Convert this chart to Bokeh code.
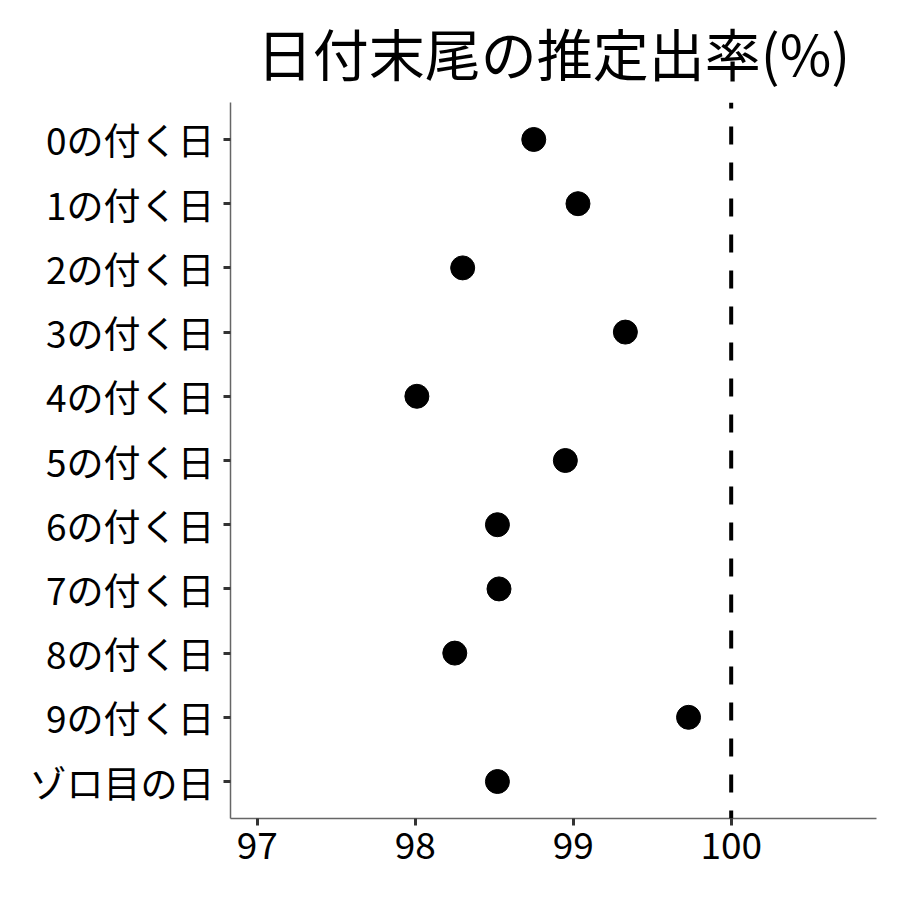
from bokeh.plotting import figure
from bokeh.models import Range1d, FactorRange, Span, FixedTicker, ColumnDataSource
from bokeh.embed import file_html
from bokeh.resources import INLINE

categories = ["0の付く日", "1の付く日", "2の付く日", "3の付く日", "4の付く日",
              "5の付く日", "6の付く日", "7の付く日", "8の付く日", "9の付く日", "ゾロ目の日"]
rates = [98.75, 99.03, 98.30, 99.33, 98.01, 98.95, 98.52, 98.53, 98.25, 99.73, 98.52]
x_ticks = [97, 98, 99, 100]
reference_value = 100
title_text = "日付末尾の推定出率(%)"

FONT = "Noto Sans CJK JP"

src = ColumnDataSource(data=dict(cat=categories, rate=rates))

p = figure(width=884, height=884, output_backend="svg", toolbar_location=None,
           x_range=Range1d(96.83, 100.92),
           y_range=FactorRange(factors=list(reversed(categories)),
                               range_padding=0.076, range_padding_units="absolute"),
           min_border_left=230, min_border_right=8, min_border_top=102, min_border_bottom=66)

p.title.text = title_text
p.title.align = "center"
p.title.vertical_align = "top"
p.title.text_font = FONT
p.title.text_font_size = "56px"
p.title.text_font_style = "normal"
p.title.text_color = "black"
p.title.offset = 0
p.title.standoff = 17

p.outline_line_color = None
p.xgrid.grid_line_color = None
p.ygrid.grid_line_color = None
p.background_fill_color = "white"
p.border_fill_color = "white"

for ax in (p.xaxis[0], p.yaxis[0]):
    ax.axis_line_color = "#666666"
    ax.axis_line_width = 1.5
    ax.major_tick_line_color = "#333333"
    ax.major_tick_line_width = 3
    ax.major_tick_out = 7
    ax.major_tick_in = 0
    ax.minor_tick_line_color = None
    ax.major_label_text_font = FONT
    ax.major_label_text_font_size = "37px"
    ax.major_label_text_color = "black"

p.xaxis[0].ticker = FixedTicker(ticks=x_ticks)
p.xaxis[0].major_label_standoff = 6
p.yaxis[0].major_label_standoff = 9

p.add_layout(Span(location=reference_value, dimension="height", line_color="black",
                  line_width=4, line_dash="18 18", line_dash_offset=12))

p.scatter(x="rate", y="cat", source=src, size=24, marker="circle",
          fill_color="black", line_color="black")

open("out.html", "w").write(file_html(p, INLINE))
